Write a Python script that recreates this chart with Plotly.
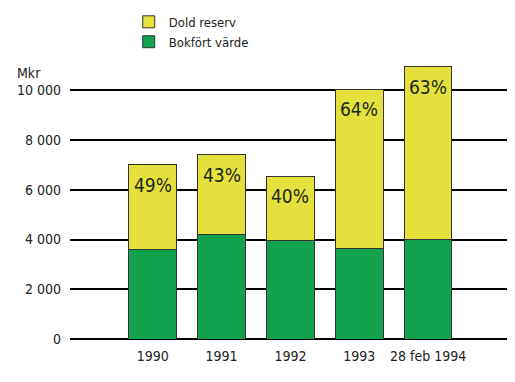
import plotly.graph_objects as go

categories = ["1990", "1991", "1992", "1993", "28 feb 1994"]
bokfort = [3600, 4200, 3950, 3650, 4000]
dold = [3400, 3200, 2600, 6400, 6950]
pct_labels = ["49%", "43%", "40%", "64%", "63%"]
y_ticks = [0, 2000, 4000, 6000, 8000, 10000]
y_tick_text = ["0", "2 000", "4 000", "6 000", "8 000", "10 000"]

FONT = "DejaVu Sans Condensed, Liberation Sans Narrow, Liberation Sans, sans-serif"
yellow = "#e4e03c"
green = "#12a24e"

totals = [b + d for b, d in zip(bokfort, dold)]

fig = go.Figure()
fig.add_trace(go.Bar(
    x=categories, y=bokfort, name="Bokfört värde",
    marker=dict(color=green, line=dict(color="#333333", width=1)),
    width=0.69,
))
fig.add_trace(go.Bar(
    x=categories, y=dold, name="Dold reserv",
    marker=dict(color=yellow, line=dict(color="#333333", width=1)),
    width=0.69,
))

annotations = [dict(
    text="Mkr", xref="paper", yref="paper", x=-0.124, y=0.91,
    xanchor="left", yanchor="bottom", showarrow=False,
    font=dict(size=14),
)]
for i, (tot, lab) in enumerate(zip(totals, pct_labels)):
    annotations.append(dict(
        x=i, y=tot, text=lab, xref="x", yref="y",
        xanchor="center", yanchor="top", yshift=-7, showarrow=False,
        font=dict(family=FONT, size=19, color="#1a2a1a"),
    ))

fig.update_layout(
    barmode="stack",
    width=507, height=374,
    margin=dict(l=62, r=0, t=50, b=43, autoexpand=False),
    paper_bgcolor="white", plot_bgcolor="white",
    font=dict(family=FONT, size=14, color="#222222"),
    showlegend=True,
    legend=dict(
        x=0.132, y=1.182, xanchor="left", yanchor="top",
        traceorder="reversed", font=dict(size=13),
        bgcolor="rgba(0,0,0,0)", itemwidth=30,
    ),
    xaxis=dict(
        type="category",
        range=[-1.2, 5.26], showgrid=False, showline=False,
        ticks="", tickfont=dict(size=14), zeroline=False, automargin=False,
        ticklabelstandoff=7,
    ),
    yaxis=dict(
        range=[0, 11300], tickvals=y_ticks, ticktext=y_tick_text,
        showgrid=True, gridcolor="black", gridwidth=1.5,
        zeroline=True, zerolinecolor="black", zerolinewidth=1.5,
        showline=False, ticks="", ticklabelstandoff=8,
        tickfont=dict(size=14), automargin=False,
    ),
    annotations=annotations,
)

fig.write_html("out.html")
